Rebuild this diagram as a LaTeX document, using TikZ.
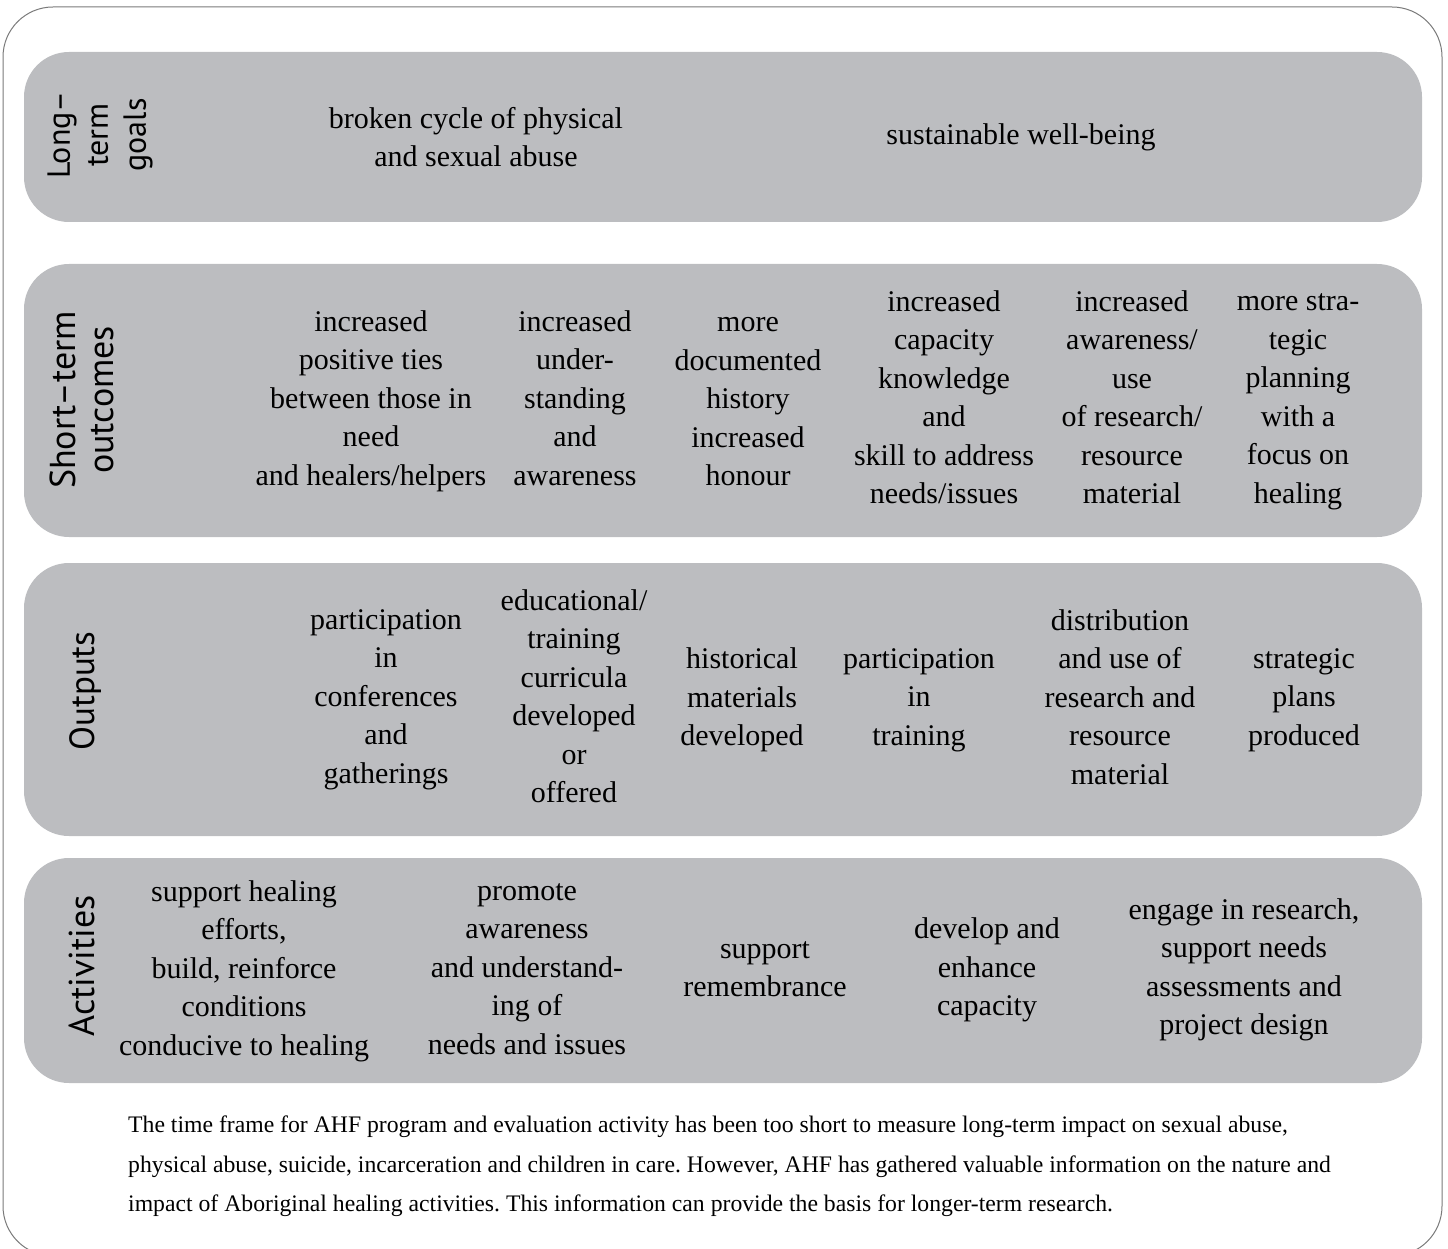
\documentclass[tikz,border=0pt]{standalone}
\usepackage{fontspec}
\setmainfont{Liberation Serif}
\newfontfamily\lblfont{PT Sans}
\frenchspacing
\definecolor{rowgray}{HTML}{BCBDC0}
\definecolor{framegray}{HTML}{7A7A7A}
\tikzset{
  rowbox/.style={fill=rowgray, draw=none, rounded corners=45pt, minimum width=1398pt, inner sep=0pt},
  txt/.style={align=center, inner sep=0pt, font=\fontsize{30}{38.5}\selectfont},
  lbl/.style={rotate=90, align=center, inner sep=0pt, font=\lblfont\fontsize{36}{38}\selectfont},
  captxt/.style={anchor=base west, inner sep=0pt, font=\fontsize{23.7}{26}\selectfont},
  outerframe/.style={draw=framegray, line width=1pt, rounded corners=50pt}
}
\begin{document}
\begin{tikzpicture}[x=1pt,y=-1pt]
\useasboundingbox (0,0) rectangle (1448,1249);
\begin{scope}
\clip (0,0) rectangle (1448,1249);
\draw[outerframe] (3,7) rectangle (1442,1256);
\end{scope}
% rows
\node[rowbox, minimum height=170pt] (r1) at (723,137) {};
\node[rowbox, minimum height=273pt] (r2) at (723,400.5) {};
\node[rowbox, minimum height=273pt] (r3) at (723,699.5) {};
\node[rowbox, minimum height=225pt] (r4) at (723,970.5) {};
% labels
\node[lbl, font=\lblfont\fontsize{32}{38}\selectfont] (l1) at (100,135) {Long–\\term\\goals};
\node[lbl] (l2) at (82,400) {Short–term\\outcomes};
\node[lbl, font=\lblfont\fontsize{35}{38}\selectfont] (l3) at (86,691) {Outputs};
\node[lbl] (l4) at (82,966) {Activities};
% row 1
\node[txt] (g1) at (476,137) {broken cycle of physical\\and sexual abuse};
\node[txt] (g2) at (1021,137) {sustainable well-being};
% row 2
\node[txt] (s1) at (371,401) {increased\\positive ties\\between those in\\need\\and healers/helpers};
\node[txt] (s2) at (575,398) {increased\\under-\\standing\\and\\awareness};
\node[txt] (s3) at (748,402) {more\\documented\\history\\increased\\honour};
\node[txt] (s4) at (944,397) {increased\\capacity\\knowledge\\and\\skill to address\\needs/issues};
\node[txt] (s5) at (1132,397) {increased\\awareness/\\use\\of research/\\resource\\material};
\node[txt] (s6) at (1298,402) {more stra-\\tegic\\planning\\with a\\focus on\\healing};
% row 3
\node[txt] (o1) at (386,699.5) {participation\\in\\conferences\\and\\gatherings};
\node[txt] (o2) at (574,696) {educational/\\training\\curricula\\developed\\or\\offered};
\node[txt] (o3) at (742,700) {historical\\materials\\developed};
\node[txt] (o4) at (919,700) {participation\\in\\training};
\node[txt] (o5) at (1120,697) {distribution\\and use of\\research and\\resource\\material};
\node[txt] (o6) at (1304,700) {strategic\\plans\\produced};
% row 4
\node[txt] (a1) at (244,971) {support healing\\efforts,\\build, reinforce\\conditions\\conducive to healing};
\node[txt] (a2) at (527,969) {promote\\awareness\\and understand-\\ing of\\needs and issues};
\node[txt] (a3) at (765,969) {support\\remembrance};
\node[txt] (a4) at (987,970) {develop and\\enhance\\capacity};
\node[txt] (a5) at (1244,970) {engage in research,\\support needs\\assessments and\\project design};
% caption
\node[captxt] (c1) at (128,1132) {The time frame for AHF program and evaluation activity has been too short to measure long-term impact on sexual abuse,};
\node[captxt] (c2) at (128,1172) {physical abuse, suicide, incarceration and children in care. However, AHF has gathered valuable information on the nature and};
\node[captxt] (c3) at (128,1211) {impact of Aboriginal healing activities. This information can provide the basis for longer-term research.};
\end{tikzpicture}
\end{document}
